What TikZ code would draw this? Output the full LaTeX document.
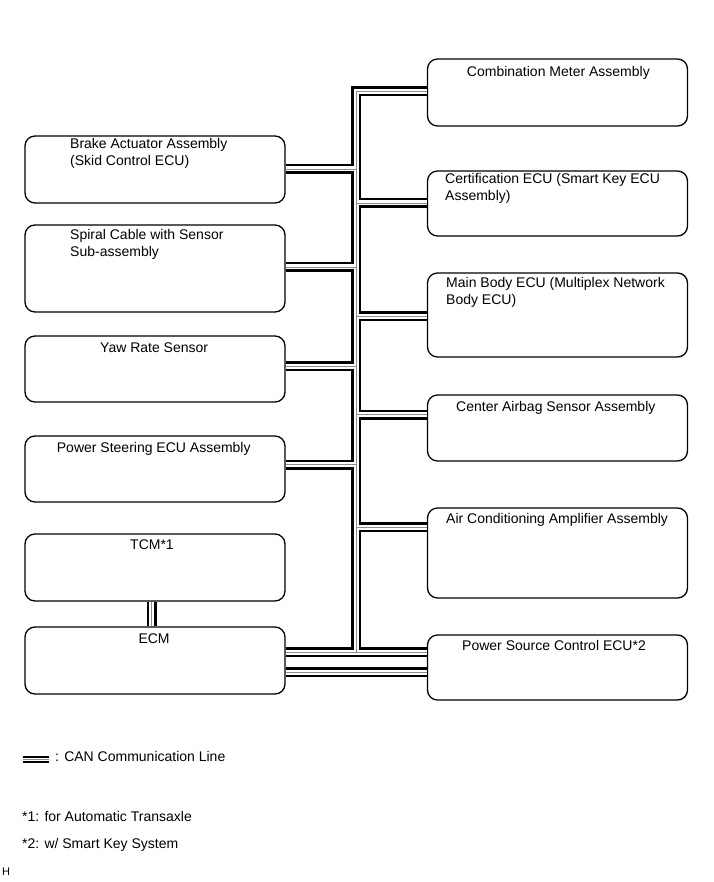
\documentclass[tikz,border=0pt]{standalone}
\usepackage{fontspec}
\setmainfont{Liberation Sans}
\usetikzlibrary{positioning}
\definecolor{canmid}{gray}{0.55}

\begin{document}
\begin{tikzpicture}[x=1pt, y=-1pt,
    box/.style={draw, line width=1.3pt, rounded corners=10pt, inner sep=0pt, minimum width=260pt},
    txt/.style={font=\fontsize{14}{17}\selectfont, inner sep=0pt, anchor=base west, align=left},
    can/.style={draw=black, line width=2.5pt, double=white, double distance=5pt},
    canmid/.style={draw=canmid, line width=0.8pt}]
  \useasboundingbox (0,0) rectangle (713,882);
  % left column
  \node[box, minimum height=67pt] (brake) at (155,169.5) {};
  \node[box, minimum height=87pt] (spiral) at (155,268.5) {};
  \node[box, minimum height=66pt] (yaw) at (155,369) {};
  \node[box, minimum height=66pt] (steer) at (155,469) {};
  \node[box, minimum height=67pt] (tcm) at (155,567.5) {};
  \node[box, minimum height=67pt] (ecm) at (155,660.5) {};
  % right column
  \node[box, minimum height=67pt] (meter) at (557.5,92.5) {};
  \node[box, minimum height=65pt] (cert) at (557.5,203.5) {};
  \node[box, minimum height=84pt] (body) at (557.5,315) {};
  \node[box, minimum height=66pt] (airbag) at (557.5,428) {};
  \node[box, minimum height=90pt] (aircon) at (557.5,553) {};
  \node[box, minimum height=65pt] (power) at (557.5,667.5) {};

  % two-line texts sit on their last baseline
  \node[txt] (brake-t) at (70,165.5) {Brake Actuator Assembly\\(Skid Control ECU)};
  \node[txt] (spiral-t) at (70,257) {Spiral Cable with Sensor\\Sub-assembly};
  \node[txt] (yaw-t) at (100,352.3) {Yaw Rate Sensor};
  \node[txt] (steer-t) at (56.7,452.3) {Power Steering ECU Assembly};
  \node[txt] (tcm-t) at (130,549.3) {TCM*1};
  \node[txt] (ecm-t) at (138.3,643.3) {ECM};
  \node[txt, anchor=base] (meter-t) at (558.4,76.7) {Combination Meter Assembly};
  \node[txt] (cert-t) at (445,200.5) {Certification ECU (Smart Key ECU\\Assembly)};
  \node[txt] (body-t) at (446,304.5) {Main Body ECU (Multiplex Network\\Body ECU)};
  \node[txt] (airbag-t) at (456,411) {Center Airbag Sensor Assembly};
  \node[txt] (aircon-t) at (446,523) {Air Conditioning Amplifier Assembly};
  \node[txt] (power-t) at (462,650) {Power Source Control ECU*2};

  % bus junctions
  \coordinate (jmeter) at (356,91.5);
  \coordinate (jbrake) at (356,169);
  \coordinate (jcert) at (356,203);
  \coordinate (jspiral) at (356,267);
  \coordinate (jbody) at (356,316);
  \coordinate (jyaw) at (356,366);
  \coordinate (jairbag) at (356,414.5);
  \coordinate (jsteer) at (356,464.5);
  \coordinate (jaircon) at (356,527);
  \coordinate (jecm) at (356,652);
  \coordinate (jlow) at (356,672);

  \foreach \lay in {can,canmid}
    \draw[\lay] (meter.west |- jmeter) -- (jmeter) -- (jecm)
      (brake.east |- jbrake) -- (jbrake)
      (spiral.east |- jspiral) -- (jspiral)
      (yaw.east |- jyaw) -- (jyaw)
      (steer.east |- jsteer) -- (jsteer)
      (cert.west |- jcert) -- (jcert)
      (body.west |- jbody) -- (jbody)
      (airbag.west |- jairbag) -- (jairbag)
      (aircon.west |- jaircon) -- (jaircon)
      (ecm.east |- jecm) -- (power.west |- jecm)
      (ecm.east |- jlow) -- (power.west |- jlow)
      ([xshift=-3.3pt]tcm.south) -- ([xshift=-3.3pt]ecm.north);

  % legend and notes
  \coordinate (lega) at (22.5,759.5);
  \coordinate (legb) at (49,759.5);
  \draw[can, line width=1.8pt, double distance=3pt] (lega) -- (legb);
  \draw[canmid, line width=0.6pt] (lega) -- (legb);
  \node[txt] (leg-t) at (55,761.7) {: CAN Communication Line};
  \node[txt] (note1) at (22,821.7) {*1: for Automatic Transaxle};
  \node[txt] (note2) at (22,848.3) {*2: w/ Smart Key System};
  \node[txt, font=\fontsize{11}{13}\selectfont] (mark) at (2,875) {H};
\end{tikzpicture}
\end{document}
